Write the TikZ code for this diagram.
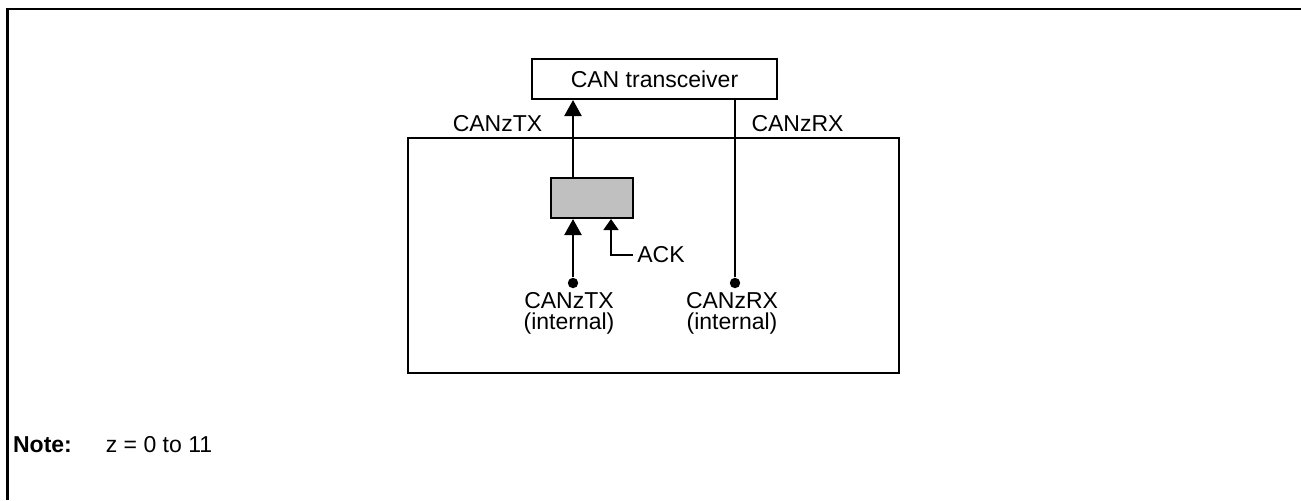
\documentclass[tikz,border=0pt]{standalone}
\usepackage{fontspec}
\setmainfont{Liberation Sans}
\usetikzlibrary{arrows.meta}
\definecolor{blockgray}{RGB}{192,192,192}

\begin{document}
\begin{tikzpicture}[x=0.5pt,y=-0.5pt,font=\fontsize{11.5}{10.5}\selectfont,
  box/.style={draw,line width=1pt,inner sep=0pt},
  lbl/.style={inner sep=0pt,align=center},
  sig/.style={line width=1.15pt},
  arr/.style={sig,-{Triangle[length=8pt,width=8.5pt]}},
  thinarr/.style={line width=0.8pt,-{Triangle[length=5.5pt,width=7.5pt]}},
  pin/.style={circle,fill,inner sep=0pt,minimum size=5.2pt}]
  \useasboundingbox (0,0) rectangle (1301,500);
  \draw[line width=1.2pt] (7.5,500) -- (7.5,9) -- (1301,9);
  % blocks
  \node[box,minimum width=122.5pt,minimum height=20pt] (trans) at (654.5,79) {CAN transceiver};
  \node[box,minimum width=245.5pt,minimum height=117.5pt] (chip) at (653.5,255.5) {};
  \node[box,fill=blockgray,minimum width=41pt,minimum height=20pt] (gate) at (592,198) {};
  % pins
  \node[pin] (txi) at (573,283) {};
  \node[pin] (rxi) at (735,283) {};
  \node[lbl] (txilbl) at (569,313) {CANzTX\\(internal)};
  \node[lbl] (rxilbl) at (732,313) {CANzRX\\(internal)};
  \node[lbl] (txlbl) at (497.5,124) {CANzTX};
  \node[lbl] (rxlbl) at (797.5,124) {CANzRX};
  \node[anchor=west,inner sep=2pt] (ack) at (633,255) {ACK};
  \coordinate (ackin) at (611,255);
  % signals
  \draw[arr] (txi) -- (txi |- gate.south);
  \draw[arr] (txi |- gate.north) -- (txi |- trans.south);
  \draw[sig] (rxi) -- (rxi |- trans.south);
  \draw[thinarr] (ack.west) -- (ackin) -- (ackin |- gate.south);
  \node[anchor=west,inner sep=0pt] (note) at (12.7,445) {\textbf{Note:}\hspace{17pt}z = 0 to 11};
\end{tikzpicture}
\end{document}
